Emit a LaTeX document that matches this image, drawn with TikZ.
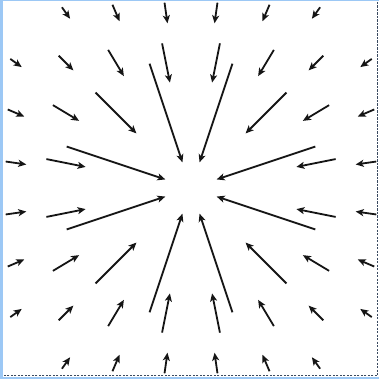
\documentclass[tikz,border=0pt]{standalone}
\usetikzlibrary{arrows.meta}
\definecolor{frameblue}{HTML}{9CC8F5}
\definecolor{dashcol}{HTML}{3A4A60}
\definecolor{inkcol}{HTML}{151515}
\tikzset{
  vec/.style={line width=1.8pt, inkcol, -{Stealth[length=8pt,width=7pt,inset=2pt]}},
  framedash/.style={dashcol, line width=1.1pt, dash pattern=on 2.2pt off 1.3pt}
}
\begin{document}
\begin{tikzpicture}[x=1pt,y=-1pt]
\useasboundingbox (0,0) rectangle (379,379);
\fill[frameblue] (0,0) rectangle (3,379);
\fill[frameblue] (0,0) rectangle (379,1.2);
\fill[frameblue] (0,376.6) rectangle (379,379);
\draw[framedash] (377.6,2) -- (377.6,375.8) -- (3,375.8);
\foreach \i in {0,...,7} {
  \foreach \j in {0,...,7} {
    \pgfmathsetmacro{\gx}{\i-3.5}
    \pgfmathsetmacro{\gy}{\j-3.5}
    \pgfmathsetmacro{\rr}{sqrt(\gx*\gx+\gy*\gy)}
    \pgfmathtruncatemacro{\ok}{(\rr>1)&&(\rr<4.9)}
    \ifnum\ok=1
      \pgfmathsetmacro{\hs}{130/(\rr*\rr*\rr)}
      \pgfmathsetmacro{\cx}{16+50*\i}
      \pgfmathsetmacro{\cy}{13+50*\j}
      \pgfmathsetmacro{\tx}{\cx+\hs*\gx}
      \pgfmathsetmacro{\ty}{\cy+\hs*\gy}
      \pgfmathsetmacro{\hx}{\cx-\hs*\gx}
      \pgfmathsetmacro{\hy}{\cy-\hs*\gy}
      \coordinate (t-\i-\j) at (\tx,\ty);
      \coordinate (h-\i-\j) at (\hx,\hy);
      \draw[vec] (t-\i-\j) -- (h-\i-\j);
    \fi
  }
}
\end{tikzpicture}
\end{document}
